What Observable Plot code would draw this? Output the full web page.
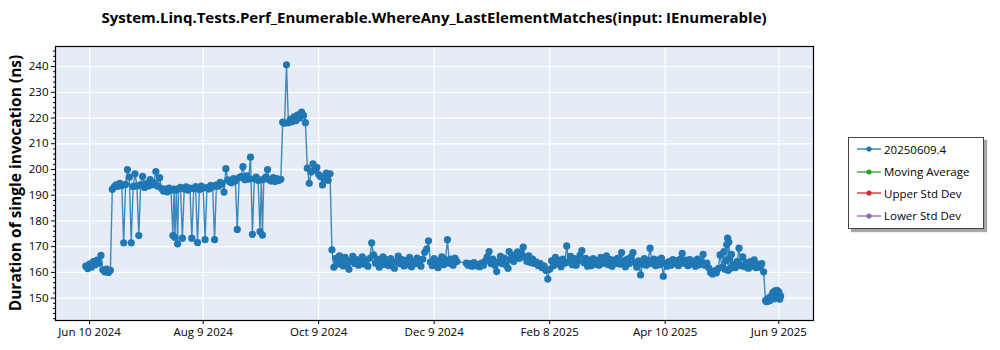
<!DOCTYPE html>
<html>
<head>
<meta charset="utf-8">
<script src="https://cdn.jsdelivr.net/npm/d3@7"></script>
<script src="https://cdn.jsdelivr.net/npm/@observablehq/plot@0.6"></script>
<style>
  html, body { margin: 0; padding: 0; background: #ffffff; }
  #wrap { position: relative; width: 1000px; height: 350px; overflow: hidden; font-family: "Open Sans", "Noto Sans", sans-serif; }
  #chart { position: absolute; left: 0; top: 0; }
  #title { position: absolute; left: 55px; width: 758px; top: 7px; text-align: center; font-weight: bold; font-size: 15px; color: #000; white-space: nowrap; }
  #ylabel { position: absolute; left: 15px; top: 183px; transform: translate(-50%, -50%) rotate(-90deg); font-weight: bold; font-size: 15.5px; color: #000; white-space: nowrap; }
  #legend { position: absolute; left: 848px; top: 137px; width: 134px; height: 90px; border: 1px solid #444; background: #fff; box-shadow: 3px 3px 1px rgba(0,0,0,0.35); }
  .lrow { position: absolute; left: 0; height: 20px; display: flex; align-items: center; font-size: 11.5px; color: #000; white-space: nowrap; }
  .lrow svg { margin-left: 8px; margin-right: 3px; }
</style>
</head>
<body>
<div id="wrap">
  <div id="chart"></div>
  <div id="title"></div>
  <div id="ylabel"></div>
  <div id="legend"></div>
</div>
<script>
// ---- Text ----
const chartTitle = "System.Linq.Tests.Perf_Enumerable.WhereAny_LastElementMatches(input: IEnumerable)";
const yAxisLabel = "Duration of single invocation (ns)";
const legendLabels = ["20250609.4", "Moving Average", "Upper Std Dev", "Lower Std Dev"];
const legendColors = ["#1f77b4", "#2ca02c", "#d62728", "#9467bd"];

// ---- Axis ticks ----
const xTickDates = ["2024-06-10", "2024-08-09", "2024-10-09", "2024-12-09", "2025-02-08", "2025-04-10", "2025-06-09"];
const yTicks = [150, 160, 170, 180, 190, 200, 210, 220, 230, 240];
const yMinorTicks = [142,144,146,148,152,154,156,158,162,164,166,168,172,174,176,178,182,184,186,188,192,194,196,198,202,204,206,208,212,214,216,218,222,224,226,228,232,234,236,238,242,244,246];
const xDomain = ["2024-05-23T00:00:00Z", "2025-06-27T08:00:00Z"];
const yDomain = [141.3, 247.8];

// ---- Series: [day of month, duration in ns] per month ----
const runs_2024_06 = [[8,162.4],[9,161.5],[10,163.2],[11,162.0],[12,164.2],[13,163.0],[14,164.8],[15,163.6],[16,166.6],[17,161.0],[18,160.2],[19,161.3],[20,160.0],[21,160.8],[22,192.3],[23,193.2],[24,194.0],[25,193.5],[26,194.6],[27,193.8],[28,171.5],[29,194.2],[30,200.0]];
const runs_2024_07 = [[1,197.0],[2,171.5],[3,193.4],[4,198.3],[5,193.6],[6,174.3],[7,194.1],[8,197.3],[9,193.0],[10,194.5],[11,193.6],[12,196.1],[13,194.0],[14,194.8],[15,199.2],[16,193.5],[17,196.8],[18,192.6],[19,191.6],[20,192.4],[21,191.3],[22,192.8],[23,191.9],[24,174.3],[24.6,192.4],[25.1,173.6],[25.8,192.0],[26.5,171.1],[27,192.6],[28,193.1],[29,173.3],[30,192.4],[31,193.2]];
const runs_2024_08 = [[1,192.0],[2,192.8],[3,173.3],[4,192.5],[5,193.3],[6,171.6],[7,192.2],[8,193.5],[9,192.8],[10,172.7],[11,193.0],[12,192.4],[13,193.8],[14,193.2],[15,172.7],[16,194.0],[17,193.5],[18,195.0],[19,194.5],[20,191.2],[21,200.3],[22,196.0],[23,195.2],[24,194.8],[25,196.5],[26,195.5],[27,176.7],[28,196.8],[29,197.2],[30,201.1],[31,196.0]];
const runs_2024_09 = [[1,197.5],[2,196.2],[3,204.8],[4,174.8],[5,196.4],[6,197.0],[7,195.8],[8,175.9],[8.7,196.0],[9.3,174.5],[10,196.2],[11,197.0],[12,200.0],[13,196.0],[14,195.5],[15,196.8],[16,195.3],[17,196.5],[18,195.8],[19,196.2],[20,218.4],[21,218.0],[22,240.7],[23,218.2],[24,219.5],[25,218.6],[26,220.5],[27,219.0],[28,221.2],[29,220.0],[30,222.3]];
const runs_2024_10 = [[1,221.0],[2,218.2],[3,200.5],[4,194.6],[5,199.0],[6,202.2],[7,199.8],[8,200.8],[9,198.0],[10,197.2],[11,194.0],[12,196.5],[13,198.6],[14,195.8],[15,198.3],[16,168.8],[17,162.0],[18,165.5],[19,163.2],[20,166.4],[21,164.0],[22,162.5],[23,165.8],[24,163.0],[25,161.2],[26,164.6],[27,166.2],[28,163.5],[29,165.0],[30,162.8],[31,164.4]];
const runs_2024_11 = [[1,166.0],[2,163.2],[3,164.8],[4,162.4],[5,165.5],[6,171.5],[7,166.8],[8,163.6],[9,165.2],[10,162.0],[11,164.3],[12,166.0],[13,163.1],[14,164.9],[15,162.6],[16,165.4],[17,163.8],[18,161.6],[19,164.2],[20,166.3],[21,163.4],[22,165.0],[23,162.5],[24,164.7],[25,163.0],[26,165.8],[27,162.2],[28,164.4],[29,163.3],[30,165.6]];
const runs_2024_12 = [[1,163.8],[2,162.4],[3,165.2],[4,167.8],[5,169.1],[6,172.3],[7,164.0],[8,162.6],[9,165.4],[10,163.2],[11,161.8],[12,164.6],[13,166.0],[14,163.0],[15,165.0],[16,172.7],[17,163.6],[18,165.2],[19,162.8],[20,165.6],[21,164.2],[26,163.6],[27,162.8],[28,163.4],[29,162.4],[30,163.8],[31,162.6]];
const runs_2025_01 = [[1,163.0],[2,162.2],[3,163.6],[4,162.8],[5,164.5],[6,166.0],[7,168.1],[8,163.5],[9,165.2],[10,162.8],[11,160.3],[12,164.0],[13,166.2],[14,163.4],[15,165.6],[16,162.9],[17,161.6],[17.6,168.1],[18,165.0],[19,166.8],[20,164.2],[21,166.5],[22,168.0],[23,165.4],[24,167.2],[25,169.8],[26,166.0],[27,164.2],[28,166.4],[29,163.8],[30,165.2],[31,163.5]];
const runs_2025_02 = [[1,164.0],[2,162.6],[3,163.4],[4,161.8],[5,162.5],[6,160.8],[7,157.4],[8,161.2],[9,164.5],[10,162.6],[11,165.8],[12,163.4],[13,164.8],[14,162.2],[15,165.2],[16,163.6],[17,170.3],[18,164.0],[19,166.2],[20,163.0],[21,165.4],[22,162.8],[23,164.6],[24,166.6],[25,168.5],[26,163.8],[27,165.5],[28,162.4]];
const runs_2025_03 = [[1,164.8],[2,162.6],[3,165.4],[4,163.2],[5,164.6],[6,162.8],[7,165.8],[8,163.5],[9,164.2],[10,166.4],[11,163.0],[12,165.0],[13,162.4],[14,164.8],[15,163.6],[16,165.6],[17,163.2],[18,167.7],[19,164.4],[20,162.2],[21,165.2],[22,163.4],[23,166.0],[24,167.7],[25,163.8],[26,162.0],[27,164.5],[28,159.0],[29,163.2],[30,165.4],[31,162.8]];
const runs_2025_04 = [[1,164.6],[2,169.4],[3,163.4],[4,165.2],[5,162.6],[6,164.8],[7,163.0],[8,165.6],[9,158.5],[10,163.6],[11,162.4],[12,164.2],[13,162.8],[14,165.0],[15,163.4],[16,164.6],[17,162.6],[18,165.2],[19,167.4],[20,163.6],[21,164.8],[22,162.6],[23,165.0],[24,163.2],[25,164.4],[26,162.4],[27,165.2],[28,163.0],[29,164.2],[30,167.0]];
const runs_2025_05 = [[1,162.8],[2,163.6],[3,161.8],[4,160.0],[5,159.4],[6,160.6],[7,159.8],[8,161.5],[9,166.8],[10,162.0],[11,168.1],[11.5,161.2],[12,164.5],[12.5,170.8],[13,173.3],[13.3,160.8],[13.6,171.8],[14,165.5],[14.5,161.6],[15,167.0],[16,163.0],[17,161.8],[18,164.2],[19,169.4],[20,162.6],[21,166.0],[22,162.2],[23,163.8],[24,161.6],[25,164.2],[26,162.4],[27,164.9],[28,161.8],[29,163.2],[30,162.0],[31,163.4]];
const runs_2025_06 = [[1,160.2],[2,149.0],[2.5,148.6],[3,149.6],[3.5,148.8],[4,150.2],[4.5,149.2],[5,150.6],[5.5,151.4],[6,152.2],[6.5,149.8],[7,152.8],[7.5,150.6],[8,153.0],[8.5,151.2],[9,152.4],[9.5,149.6],[10,150.8]];

const runMonths = [
  ["2024-06", runs_2024_06], ["2024-07", runs_2024_07], ["2024-08", runs_2024_08],
  ["2024-09", runs_2024_09], ["2024-10", runs_2024_10], ["2024-11", runs_2024_11],
  ["2024-12", runs_2024_12], ["2025-01", runs_2025_01], ["2025-02", runs_2025_02],
  ["2025-03", runs_2025_03], ["2025-04", runs_2025_04], ["2025-05", runs_2025_05],
  ["2025-06", runs_2025_06]
];

// ---- Build table ----
const DAY = 86400000;
const data = [];
for (const [ym, rows] of runMonths) {
  const base = Date.parse(ym + "-01T00:00:00Z");
  for (const [d, v] of rows) data.push({date: new Date(base + (d - 1) * DAY), value: v});
}
const tickDates = xTickDates.map(s => new Date(s + "T00:00:00Z"));
const fmt = d3.utcFormat("%b %-d %Y");
const fontFamily = '"Open Sans", "Noto Sans", sans-serif';

const chart = Plot.plot({
  width: 1000,
  height: 350,
  marginLeft: 55,
  marginRight: 187,
  marginTop: 46,
  marginBottom: 30,
  style: {fontFamily, fontSize: "11.5px", color: "#000", background: "transparent", overflow: "visible"},
  x: {type: "utc", domain: xDomain.map(s => new Date(s)), label: null},
  y: {domain: yDomain, label: null},
  marks: [
    Plot.frame({fill: "#E5ECF6", stroke: null}),
    Plot.gridX(tickDates, {stroke: "#ffffff", strokeOpacity: 1, strokeWidth: 1.3}),
    Plot.gridY(yTicks, {stroke: "#ffffff", strokeOpacity: 1, strokeWidth: 1.3}),
    Plot.line(data, {x: "date", y: "value", stroke: "#1f77b4", strokeWidth: 1.4, strokeOpacity: 0.85}),
    Plot.dot(data, {x: "date", y: "value", fill: "#1f77b4", r: 3.6}),
    Plot.frame({stroke: "#000", strokeWidth: 1.2}),
    Plot.axisX(tickDates, {tickSize: 4, tickPadding: 3, tickFormat: fmt, label: null, fill: "#000"}),
    Plot.axisY(yTicks, {tickSize: 4, tickPadding: 3, label: null, fill: "#000"}),
    Plot.axisY(yMinorTicks, {tickSize: 2, tickFormat: () => "", label: null})
  ]
});
document.getElementById("chart").appendChild(chart);

document.getElementById("title").textContent = chartTitle;
document.getElementById("ylabel").textContent = yAxisLabel;

const legend = document.getElementById("legend");
const rowTops = [1, 23.5, 45, 67.5];
legendLabels.forEach((label, i) => {
  const row = document.createElement("div");
  row.className = "lrow";
  row.style.top = rowTops[i] + "px";
  const c = legendColors[i];
  row.innerHTML = `<svg width="24" height="8"><line x1="0" y1="4" x2="24" y2="4" stroke="${c}" stroke-width="1.3"/><circle cx="12" cy="4" r="2.6" fill="${c}"/></svg>`;
  const span = document.createElement("span");
  span.textContent = label;
  row.appendChild(span);
  legend.appendChild(row);
});
</script>
</body>
</html>
